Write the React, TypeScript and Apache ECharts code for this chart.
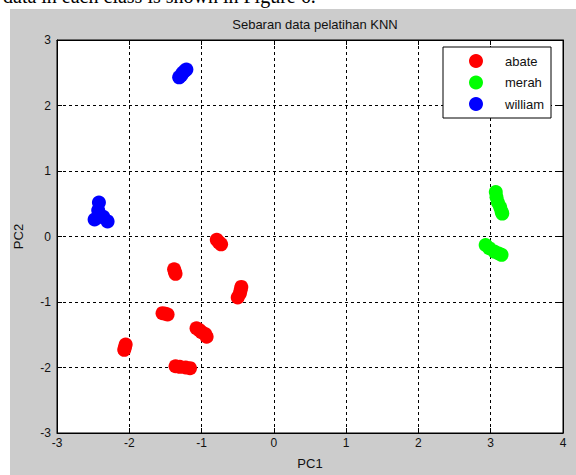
import React, { useEffect, useRef } from "react";
import * as echarts from "echarts";

const title = "Sebaran data pelatihan KNN";
const headerText = "data in each class is shown in Figure 6.";
const seriesNames = ["abate", "merah", "william"];
const seriesColors = ["#ff0000", "#00ff00", "#0000ff"];

const abate: number[][] = [
  [-0.79, -0.05], [-0.76, -0.09], [-0.73, -0.12],
  [-1.38, -0.5], [-1.37, -0.54], [-1.36, -0.57],
  [-0.45, -0.77], [-0.46, -0.82], [-0.47, -0.87], [-0.5, -0.93],
  [-1.54, -1.17], [-1.5, -1.18], [-1.47, -1.19],
  [-1.07, -1.4], [-1.03, -1.43], [-1.0, -1.46], [-0.95, -1.49], [-0.93, -1.53],
  [-2.05, -1.65], [-2.06, -1.69], [-2.07, -1.73],
  [-1.36, -1.98], [-1.3, -1.99], [-1.22, -2.0], [-1.16, -2.01],
];
const merah: number[][] = [
  [3.07, 0.68], [3.08, 0.6], [3.1, 0.52], [3.13, 0.45], [3.15, 0.38], [3.16, 0.35],
  [2.93, -0.13], [2.98, -0.18], [3.05, -0.23], [3.11, -0.26], [3.15, -0.28],
];
const william: number[][] = [
  [-1.31, 2.43], [-1.28, 2.46], [-1.26, 2.5], [-1.23, 2.53], [-1.21, 2.55],
  [-2.42, 0.52], [-2.43, 0.4], [-2.44, 0.29], [-2.48, 0.26], [-2.36, 0.3], [-2.3, 0.23],
];
const seriesData = [abate, merah, william];

const xMin = -3, xMax = 4, yMin = -3, yMax = 3;

export default function App() {
  const ref = useRef<HTMLDivElement>(null);
  useEffect(() => {
    if (!ref.current) return;
    const chart = echarts.init(ref.current, null, { renderer: "svg" });
    const font = "Liberation Sans";
    const tickLabel = { color: "#111", fontFamily: font, fontSize: 12 };
    const axisLine = { show: true, onZero: false, lineStyle: { color: "#000", width: 1 } };
    const axisTick = { show: true, inside: true, length: 5, lineStyle: { color: "#000" } };
    const splitLine = { show: true, lineStyle: { color: "#000", type: [3, 3] as any, width: 1 } };
    chart.setOption({
      animation: false,
      backgroundColor: "#ffffff",
      graphic: [
        {
          type: "text", left: 3, top: -14, z: -20,
          style: { text: headerText, font: "20px 'Liberation Serif'", fill: "#000" },
        },
        {
          type: "rect", z: -10,
          shape: { x: 10, y: 9, width: 566, height: 466 },
          style: { fill: "#cccccc" },
        },
      ],
      title: {
        text: title, left: 310, top: 13, textAlign: "center",
        textStyle: { fontFamily: font, fontSize: 13, fontWeight: "normal", color: "#111" },
      },
      grid: {
        left: 57, right: 13, top: 40, bottom: 38, show: true,
        backgroundColor: "#ffffff", borderColor: "#000", borderWidth: 1,
      },
      legend: {
        left: 443, top: 47, orient: "vertical",
        backgroundColor: "#ffffff", borderColor: "#000", borderWidth: 1,
        padding: [7, 7, 7, 26], itemGap: 7.5, itemWidth: 14, itemHeight: 14,
        icon: "circle",
        textStyle: { fontFamily: font, fontSize: 13, color: "#111", padding: [0, 0, 0, 17] },
        data: seriesNames,
      },
      xAxis: [
        {
          type: "value", min: xMin, max: xMax, interval: 1, position: "bottom",
          axisLine, axisTick, splitLine, axisLabel: { ...tickLabel, margin: 4 },
          name: "PC1", nameLocation: "middle", nameGap: 24,
          nameTextStyle: { fontFamily: font, fontSize: 13, color: "#111" },
        },
        {
          type: "value", min: xMin, max: xMax, interval: 1, position: "top",
          axisLine, axisTick, splitLine: { show: false }, axisLabel: { show: false },
        },
      ],
      yAxis: [
        {
          type: "value", min: yMin, max: yMax, interval: 1, position: "left",
          axisLine, axisTick, splitLine, axisLabel: { ...tickLabel, margin: 6 },
          name: "PC2", nameLocation: "middle", nameGap: 32,
          nameTextStyle: { fontFamily: font, fontSize: 13, color: "#111" },
        },
        {
          type: "value", min: yMin, max: yMax, interval: 1, position: "right",
          axisLine, axisTick, splitLine: { show: false }, axisLabel: { show: false },
        },
      ],
      series: seriesNames.map((name, i) => ({
        name, type: "scatter", data: seriesData[i], symbol: "circle", symbolSize: 14,
        itemStyle: { color: seriesColors[i], opacity: 1 },
        xAxisIndex: 0, yAxisIndex: 0,
      })),
    });
    return () => chart.dispose();
  }, []);
  return (
    <div
      ref={ref}
      style={{ position: "fixed", left: 0, top: 0, width: 576, height: 475 }}
    />
  );
}
